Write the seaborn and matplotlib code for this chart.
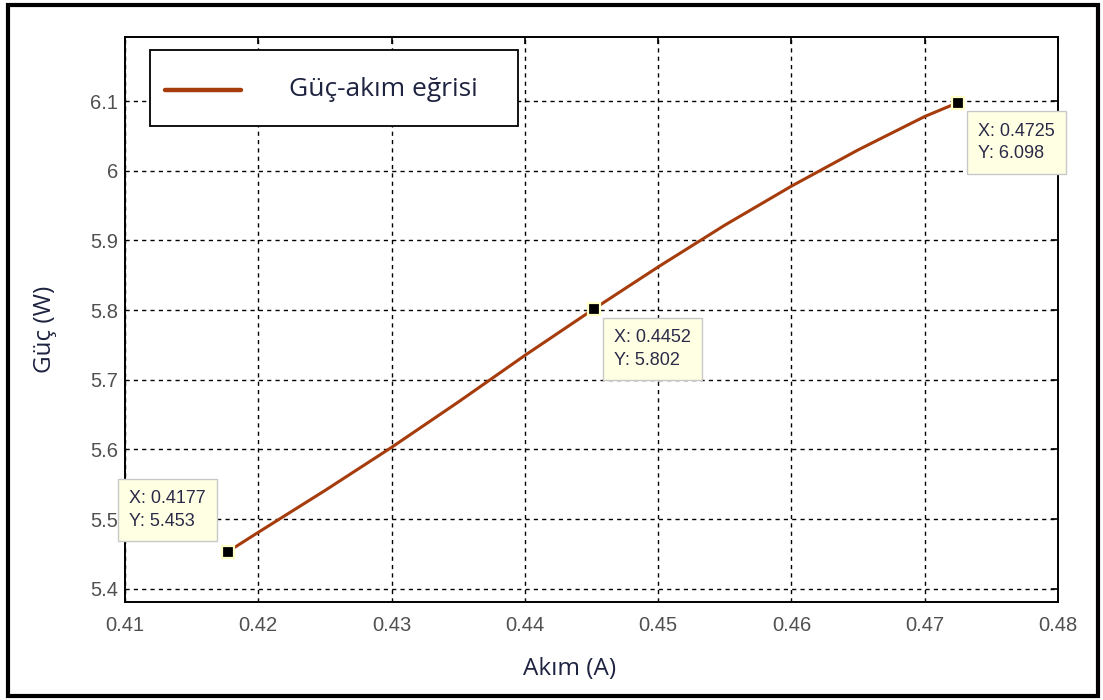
import matplotlib
matplotlib.use("Agg")
import matplotlib.pyplot as plt
from matplotlib.patches import Rectangle
import seaborn as sns
import pandas as pd

# Power vs. current curve
akim = [0.4177, 0.4200, 0.4250, 0.4300, 0.4350, 0.4400, 0.4452,
        0.4500, 0.4550, 0.4600, 0.4650, 0.4700, 0.4725]
guc = [5.453, 5.481, 5.541, 5.603, 5.668, 5.735, 5.802,
       5.862, 5.922, 5.978, 6.030, 6.078, 6.098]

# Marked data points
tip_x = [0.4177, 0.4452, 0.4725]
tip_y = [5.453, 5.802, 6.098]

x_ticks = [0.41, 0.42, 0.43, 0.44, 0.45, 0.46, 0.47, 0.48]
y_ticks = [5.4, 5.5, 5.6, 5.7, 5.8, 5.9, 6.0, 6.1]
y_tick_labels = ["5.4", "5.5", "5.6", "5.7", "5.8", "5.9", "6", "6.1"]

series_label = "Güç-akım eğrisi"
x_label = "Akım (A)"
y_label = "Güç (W)"

LINE_COLOR = "#A63C0C"
LABEL_COLOR = "#1E2340"
TICK_COLOR = "#505050"
TIP_BG = "#FFFFE4"

sns.set_style("white")
plt.rcParams["font.family"] = ["Open Sans", "DejaVu Sans"]

df = pd.DataFrame({"akim": akim, "guc": guc})

fig = plt.figure(figsize=(11.03, 7.0), dpi=100)
ax = fig.add_axes([0.1133, 0.14, 0.8459, 0.807])

sns.lineplot(data=df, x="akim", y="guc", ax=ax, color=LINE_COLOR,
             linewidth=2.2, label=series_label, zorder=3)

ax.set_xlim(0.41, 0.48)
ax.set_ylim(5.381, 6.192)
ax.set_xticks(x_ticks)
ax.set_xticklabels([f"{v:.2f}" for v in x_ticks])
ax.set_yticks(y_ticks)
ax.set_yticklabels(y_tick_labels)

ax.grid(True, color="black", linestyle=(0, (3, 3)), linewidth=1.0)
for s in ax.spines.values():
    s.set_color("black")
    s.set_linewidth(1.4)

ax.tick_params(axis="both", direction="in", length=5, width=1.2,
               top=True, right=True, color="black",
               labelcolor=TICK_COLOR, labelsize=14.5)
ax.tick_params(axis="x", pad=10)
ax.tick_params(axis="y", pad=5)
for lab in ax.get_xticklabels() + ax.get_yticklabels():
    lab.set_family(["Liberation Sans", "DejaVu Sans"])

ax.set_xlabel(x_label, fontsize=17.5, color=LABEL_COLOR)
ax.set_ylabel(y_label, fontsize=17.5, color=LABEL_COLOR)
ax.xaxis.set_label_coords(0.476, -0.097)
ax.yaxis.set_label_coords(-0.073, 0.483)

leg = ax.legend(loc="upper left", bbox_to_anchor=(0.027, 0.877, 0.394, 0.1),
                mode="expand",
                fontsize=19, frameon=True, fancybox=False, framealpha=1,
                edgecolor="black", borderpad=0.55, handlelength=2.9,
                handletextpad=1.8, handleheight=2.35, borderaxespad=0)
leg.get_frame().set_linewidth(1.3)
for t in leg.get_texts():
    t.set_color(LABEL_COLOR)
for h in leg.get_lines():
    h.set_linewidth(3.2)
    # sit the sample line at the vertical middle of the box
    h.set_ydata([y - 7 for y in h.get_ydata()])

# Data markers
ax.plot(tip_x, tip_y, linestyle="none", marker="s", markersize=8,
        markerfacecolor="black", markeredgecolor="#FFFFC8",
        markeredgewidth=1.6, zorder=5, clip_on=False)

tip_style = dict(textcoords="offset pixels", fontsize=13,
                 family=["Liberation Sans", "DejaVu Sans"],
                 color="#2A2A48", linespacing=1.45, multialignment="left",
                 annotation_clip=False, zorder=6,
                 bbox=dict(boxstyle="square,pad=0.62", facecolor=TIP_BG,
                           edgecolor="#C8C8C8", linewidth=1.0))
offsets = [((-22, 22), "right", "bottom"),
           ((20, -20), "left", "top"),
           ((20, -20), "left", "top")]
for xv, yv, (off, ha, va) in zip(tip_x, tip_y, offsets):
    ax.annotate(f"X: {xv:.4f}\nY: {yv:.3f}", xy=(xv, yv), xytext=off,
                ha=ha, va=va, **tip_style)

# Outer frame around the whole figure
fig.patches.append(Rectangle((8 / 1103, 4 / 700), 1090 / 1103, 691 / 700,
                             transform=fig.transFigure, fill=False,
                             edgecolor="black", linewidth=3.0))

fig.savefig("out.png", dpi=100, facecolor="white")
